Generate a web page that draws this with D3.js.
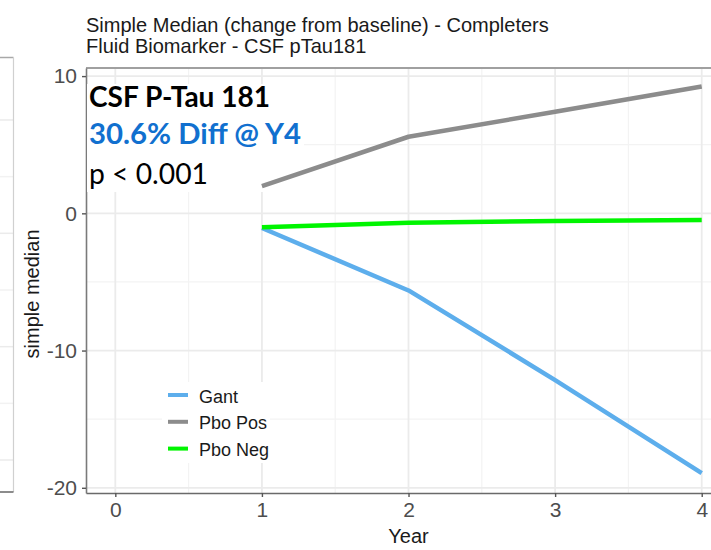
<!DOCTYPE html>
<html>
<head>
<meta charset="utf-8">
<script src="https://cdn.jsdelivr.net/npm/d3@7"></script>
<style>
  html, body { margin: 0; padding: 0; background: #ffffff; }
  svg { display: block; }
</style>
</head>
<body>
<svg id="chart" width="711" height="550"></svg>
<script>
// ---- data ----
const years = [1, 2, 3, 4];
const seriesNames = ["Gant", "Pbo Pos", "Pbo Neg"];
const gantValues = [-1.07, -5.62, -12.15, -18.93];
const pboPosValues = [1.99, 5.58, 7.40, 9.24];
const pboNegValues = [-1.02, -0.69, -0.56, -0.49];
const seriesColors = ["#5DAEEC", "#8C8C8C", "#00F500"];
const xTicks = [0, 1, 2, 3, 4];
const xMinorTicks = [0.5, 1.5, 2.5, 3.5];
const yTicks = [10, 0, -10, -20];
const yMinorTicks = [5, -5, -15];
const titleLines = ["Simple Median (change from baseline) - Completers", "Fluid Biomarker - CSF pTau181"];
const noteLines = ["CSF P-Tau 181", "30.6% Diff @ Y4", "p < 0.001"];
// neighbouring panel (only its right edge is in view)
const sideGrid = [1, 2, 3, 4, 5, 6, 7];

const svg = d3.select("#chart");
const sans = "'Liberation Sans', Arial, sans-serif";
const plainNumber = d => String(d);   // ASCII hyphen for negatives

// panel geometry
const panel = { left: 86, top: 68, bottom: 493 };
const x = d3.scaleLinear().domain([-0.2, 4.2]).range([panel.left, panel.left + 4.4 * 146.6]);
const y = d3.scaleLinear().domain([-20.38, 10.59]).range([panel.bottom, panel.top]);

// ---- neighbouring panel fragment on the far left ----
const side = svg.append("g");
const sideY = d3.scaleLinear().domain([0, 7]).range([120 - 56.7, 460]);
side.selectAll("line.g").data(sideGrid).join("line")
  .attr("x1", 0).attr("x2", 13.5)
  .attr("y1", d => sideY(d)).attr("y2", d => sideY(d))
  .attr("stroke", (d, i) => i % 2 ? "#F2F2F2" : "#EBEBEB").attr("stroke-width", 1.5);
side.append("line").attr("x1", 0).attr("x2", 13.5).attr("y1", 57.5).attr("y2", 57.5)
  .attr("stroke", "#A8A8A8").attr("stroke-width", 1.5);
side.append("line").attr("x1", 13.5).attr("x2", 13.5).attr("y1", 57.5).attr("y2", 492)
  .attr("stroke", "#D0D0D0").attr("stroke-width", 1.2);
side.append("line").attr("x1", 0).attr("x2", 13.5).attr("y1", 492).attr("y2", 492)
  .attr("stroke", "#666").attr("stroke-width", 1.5);

// ---- gridlines ----
const grid = svg.append("g");
grid.selectAll("line.xmin").data(xMinorTicks).join("line")
  .attr("x1", d => x(d)).attr("x2", d => x(d)).attr("y1", panel.top).attr("y2", panel.bottom)
  .attr("stroke", "#F3F3F3").attr("stroke-width", 1.2);
grid.selectAll("line.ymin").data(yMinorTicks).join("line")
  .attr("x1", panel.left).attr("x2", 711).attr("y1", d => y(d)).attr("y2", d => y(d))
  .attr("stroke", "#F3F3F3").attr("stroke-width", 1.2);
grid.selectAll("line.xmaj").data(xTicks).join("line")
  .attr("x1", d => x(d)).attr("x2", d => x(d)).attr("y1", panel.top).attr("y2", panel.bottom)
  .attr("stroke", "#EBEBEB").attr("stroke-width", 1.8);
grid.selectAll("line.ymaj").data(yTicks).join("line")
  .attr("x1", panel.left).attr("x2", 711).attr("y1", d => y(d)).attr("y2", d => y(d))
  .attr("stroke", "#EBEBEB").attr("stroke-width", 1.8);

// ---- panel border ----
svg.append("line").attr("x1", panel.left).attr("x2", 711).attr("y1", panel.top).attr("y2", panel.top)
  .attr("stroke", "#A0A0A0").attr("stroke-width", 2);

// ---- axes ----
const yAxis = d3.axisLeft(y).tickValues(yTicks).tickSize(4).tickSizeOuter(0).tickPadding(5).tickFormat(plainNumber);
const gy = svg.append("g").attr("transform", `translate(${panel.left},0)`).call(yAxis);
gy.select(".domain").attr("stroke", "#7A7A7A").attr("stroke-width", 1.6);
gy.selectAll(".tick line").attr("stroke", "#555").attr("stroke-width", 1.4);
gy.selectAll(".tick text").attr("font-family", sans).attr("font-size", 21).attr("fill", "#4D4D4D");

const xAxis = d3.axisBottom(x).tickValues(xTicks).tickSize(4).tickSizeOuter(0).tickPadding(5).tickFormat(plainNumber);
const gx = svg.append("g").attr("transform", `translate(0,${panel.bottom})`).call(xAxis);
gx.select(".domain").attr("stroke", "#6A6A6A").attr("stroke-width", 1.6);
gx.selectAll(".tick line").attr("stroke", "#555").attr("stroke-width", 1.4);
gx.selectAll(".tick text").attr("font-family", sans).attr("font-size", 21).attr("fill", "#4D4D4D");

// axis titles
svg.append("text").attr("x", x(2)).attr("y", 543).attr("text-anchor", "middle")
  .attr("font-family", sans).attr("font-size", 20).attr("fill", "#1A1A1A").text("Year");
svg.append("text").attr("transform", `translate(39,${(y(-10) + y(0)) / 2 + 12}) rotate(-90)`)
  .attr("text-anchor", "middle").attr("font-family", sans).attr("font-size", 20).attr("fill", "#1A1A1A")
  .text("simple median");

// ---- title (size set so the first line spans its measured width) ----
const titles = svg.selectAll("text.title").data(titleLines).join("text")
  .attr("x", panel.left).attr("y", (d, i) => 31.5 + i * 21.5)
  .attr("font-family", sans).attr("font-size", 18).attr("fill", "#1A1A1A").text(d => d);
const titleW = titles.nodes()[0].getComputedTextLength();
titles.attr("font-size", 18 * 463 / titleW);

// ---- annotation box (white backing hides the grid) ----
svg.append("rect").attr("x", panel.left + 1).attr("y", 84).attr("width", 217).attr("height", 108).attr("fill", "#fff");
const noteFont = "Lato, 'Open Sans', sans-serif";
const noteStyle = [
  { weight: 700, color: "#000000", baseline: 107, width: 181 },
  { weight: 700, color: "#1170CF", baseline: 143.5, width: 212 },
  { weight: 400, color: "#000000", baseline: 183.5, width: 119 }
];
noteLines.forEach((t, i) => {
  const s = noteStyle[i];
  const el = svg.append("text").attr("x", 89).attr("y", s.baseline)
    .attr("font-family", noteFont).attr("font-weight", s.weight).attr("font-size", 24)
    .attr("fill", s.color).text(t);
  const w = el.node().getComputedTextLength();
  el.attr("font-size", 24 * s.width / w);
});

// ---- lines ----
const series = [gantValues, pboPosValues, pboNegValues];
const line = d3.line().x((d, i) => x(years[i])).y(d => y(d));
svg.append("g").selectAll("path").data(series).join("path")
  .attr("d", d => line(d)).attr("fill", "none")
  .attr("stroke", (d, i) => seriesColors[i]).attr("stroke-width", 4.5)
  .attr("stroke-linejoin", "round");

// ---- legend ----
const lg = svg.append("g");
lg.append("rect").attr("x", 162).attr("y", 382).attr("width", 108).attr("height", 81).attr("fill", "#fff");
const rows = lg.selectAll("g.row").data(seriesNames).join("g")
  .attr("transform", (d, i) => `translate(168,${395 + i * 26.8})`);
rows.append("line").attr("x1", 0).attr("x2", 20).attr("y1", 0).attr("y2", 0)
  .attr("stroke", (d, i) => seriesColors[i]).attr("stroke-width", 4);
rows.append("text").attr("x", 31).attr("y", 7.5)
  .attr("font-family", sans).attr("font-size", 18).attr("fill", "#1A1A1A").text(d => d);
</script>
</body>
</html>
